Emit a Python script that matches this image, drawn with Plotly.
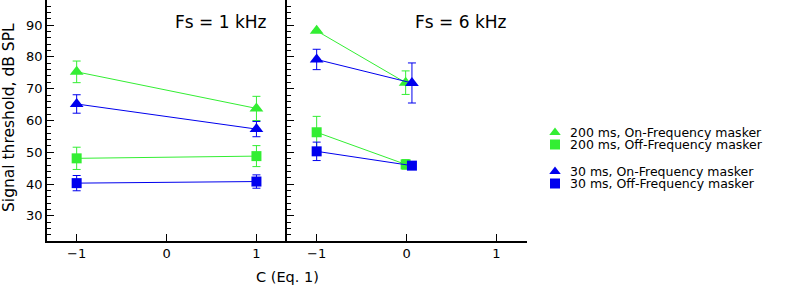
import plotly.graph_objects as go

# ---------------- data ----------------
x_1k = [-1, 1]
on200_1k = [75.3, 63.8]
on200_1k_err = [3.4, 3.8]
on30_1k = [65.2, 57.3]
on30_1k_err = [2.9, 2.4]
off200_1k = [48.1, 48.8]
off200_1k_err = [3.5, 3.3]
off30_1k = [40.3, 40.8]
off30_1k_err = [2.4, 2.1]

x_6k_green = [-1, -0.01]
x_6k_blue = [-1, 0.06]
on200_6k = [88.2, 71.9]
on200_6k_err = [0.0, 3.7]
on30_6k = [79.2, 71.8]
on30_6k_err = [3.2, 6.3]
off200_6k = [56.3, 46.2]
off200_6k_err = [5.0, 1.5]
off30_6k = [50.3, 45.8]
off30_6k_err = [2.9, 1.0]

legend_labels = ["200 ms, On-Frequency masker", "200 ms, Off-Frequency masker",
                 "30 ms, On-Frequency masker", "30 ms, Off-Frequency masker"]
legend_symbols = ["triangle-up", "square", "triangle-up", "square"]
legend_rows = [132.5, 144.5, 171.5, 183.5]

y_ticks = [30, 40, 50, 60, 70, 80, 90]
x_ticks = [-1, 0, 1]
x_ticktext = ["\u22121", "0", "1"]

GREEN = "#33EE33"
BLUE = "#0000EE"
FONT = "DejaVu Sans"

fig = go.Figure()

def add_series(x, y, err, color, symbol, size, xa, ya):
    fig.add_trace(go.Scatter(
        x=x, y=y, mode="lines+markers", xaxis=xa, yaxis=ya,
        line=dict(color=color, width=1),
        marker=dict(symbol=symbol, size=size, color=color, line=dict(width=0)),
        error_y=dict(type="data", array=err, visible=True, color=color, thickness=1, width=4),
        showlegend=False, hoverinfo="skip"))

# left panel (Fs = 1 kHz)
add_series(x_1k, on200_1k, on200_1k_err, GREEN, "triangle-up", 12, "x", "y")
add_series(x_1k, off200_1k, off200_1k_err, GREEN, "square", 10, "x", "y")
add_series(x_1k, on30_1k, on30_1k_err, BLUE, "triangle-up", 12, "x", "y")
add_series(x_1k, off30_1k, off30_1k_err, BLUE, "square", 10, "x", "y")
# right panel (Fs = 6 kHz)
add_series(x_6k_green, on200_6k, on200_6k_err, GREEN, "triangle-up", 12, "x2", "y2")
add_series(x_6k_green, off200_6k, off200_6k_err, GREEN, "square", 10, "x2", "y2")
add_series(x_6k_blue, on30_6k, on30_6k_err, BLUE, "triangle-up", 12, "x2", "y2")
add_series(x_6k_blue, off30_6k, off30_6k_err, BLUE, "square", 10, "x2", "y2")

L = 47
W = 786 - L
d1 = 240 / W
d2 = 480 / W
LX0 = 0.67  # legend axis domain start (paper)
lx_px = L + LX0 * W

# custom legend markers on a hidden axis (pixel-like units)
legend_colors = [GREEN, GREEN, BLUE, BLUE]
fig.add_trace(go.Scatter(
    x=[555 - lx_px] * 4, y=legend_rows, mode="markers", xaxis="x3", yaxis="y3",
    marker=dict(symbol=legend_symbols, size=10, color=legend_colors, line=dict(width=0)),
    showlegend=False, hoverinfo="skip", cliponaxis=False))

common_x = dict(range=[-1.33, 1.34], tickvals=x_ticks, ticktext=x_ticktext,
                ticks="inside", ticklen=7, tickcolor="black", tickwidth=1,
                showline=True, linecolor="black", linewidth=1.5, showgrid=False,
                zeroline=False, tickfont=dict(family=FONT, size=13, color="black"))
common_y = dict(range=[22.1, 97.9], tickvals=y_ticks, ticks="inside", ticklen=7,
                tickcolor="black", tickwidth=1, showline=True, linecolor="black",
                linewidth=1.5, showgrid=False, zeroline=False,
                minor=dict(dtick=2, tick0=0, ticks="inside", ticklen=4, tickcolor="black"),
                tickfont=dict(family=FONT, size=13, color="black"))

annotations = [
    dict(text="Fs = 1 kHz", xref="paper", yref="paper", x=(221 - L) / W, y=1 - 22 / 241,
         showarrow=False, font=dict(family=FONT, size=17), xanchor="center", yanchor="middle"),
    dict(text="Fs = 6 kHz", xref="paper", yref="paper", x=(461 - L) / W, y=1 - 22 / 241,
         showarrow=False, font=dict(family=FONT, size=17), xanchor="center", yanchor="middle"),
    dict(text="C (Eq. 1)", xref="paper", yref="paper", x=(287 - L) / W, y=0, yshift=-36,
         showarrow=False, font=dict(family=FONT, size=14.5), xanchor="center", yanchor="middle"),
    dict(text="Signal threshold, dB SPL", xref="paper", yref="paper", x=0, xshift=-(L - 9),
         y=1 - 118 / 241, textangle=-90, showarrow=False,
         font=dict(family=FONT, size=15.5), xanchor="center", yanchor="middle"),
]
for lab, row in zip(legend_labels, legend_rows):
    annotations.append(dict(text=lab, xref="paper", yref="paper", x=(568 - L) / W,
                            y=1 - row / 241, showarrow=False, xanchor="left", yanchor="middle",
                            font=dict(family=FONT, size=12.5)))

fig.update_layout(
    width=786, height=285,
    margin=dict(l=L, r=0, t=0, b=44, autoexpand=False),
    plot_bgcolor="white", paper_bgcolor="white",
    font=dict(family=FONT, size=13, color="black"),
    xaxis=dict(domain=[0, d1], anchor="y", **common_x),
    xaxis2=dict(domain=[d1, d2], anchor="y2", **common_x),
    yaxis=dict(domain=[0, 1], anchor="x", **common_y),
    yaxis2=dict(domain=[0, 1], anchor="x2", showticklabels=False, **common_y),
    xaxis3=dict(domain=[LX0, 1], anchor="y3", range=[0, 786 - lx_px], visible=False),
    yaxis3=dict(domain=[0, 1], anchor="x3", range=[241, 0], visible=False),
    showlegend=False,
    annotations=annotations,
)

fig.write_html("out.html", config={"displayModeBar": False},
               post_script="document.body.style.margin='0';document.body.style.overflow='hidden';")
